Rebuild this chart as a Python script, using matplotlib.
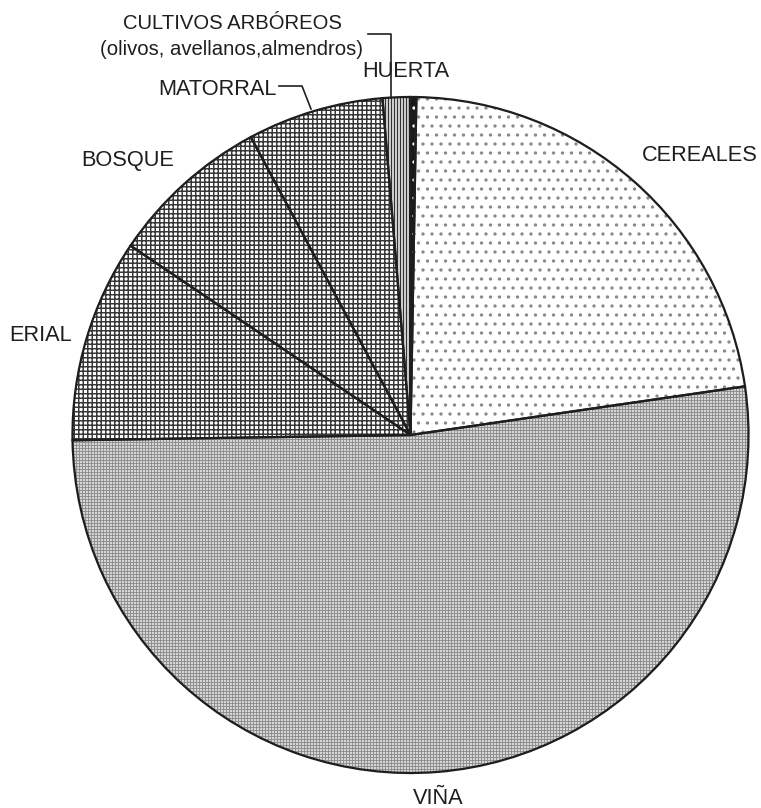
import matplotlib
matplotlib.use('Agg')
import matplotlib.pyplot as plt

categories = ['CEREALES', 'VIÑA', 'ERIAL', 'BOSQUE', 'MATORRAL',
              'CULTIVOS ARBÓREOS\n(olivos, avellanos,almendros)', 'HUERTA']
values = [22.4, 52.0, 9.7, 7.7, 6.5, 1.3, 0.3]

W, H = 761, 808
DPI = 108
plt.rcParams['font.family'] = ['Liberation Sans', 'DejaVu Sans']

fig = plt.figure(figsize=(W / DPI, H / DPI), dpi=DPI)
ax = fig.add_axes([0, 0, 1, 1])

cx, cy, R = 410.5, H - 435, 338

faces = ['white', '#d6d6d6', 'white', 'white', 'white', 'white', '#1a1a1a']
hatches = ['..', '++++++', '++++', '++++', '++++', '||||||', '..']
hcolors = ['#8a8a8a', '#8c8c8c', '#383838', '#383838', '#383838', '#333333', 'white']
hlws = [1.0, 0.6, 1.0, 1.0, 1.0, 1.0, 1.0]

wedges, _ = ax.pie(values, startangle=89, counterclock=False, center=(cx, cy),
                   radius=R, colors=faces, hatch=hatches,
                   wedgeprops=dict(linewidth=0))
for w, hc, lw in zip(wedges, hcolors, hlws):
    w.set_edgecolor(hc)
    if hasattr(w, 'set_hatchcolor'):
        w.set_hatchcolor(hc)
    if hasattr(w, 'set_hatch_linewidth'):
        w.set_hatch_linewidth(lw)
    else:
        w._hatch_linewidth = lw
    w.set_linewidth(0)

ax.pie(values, startangle=89, counterclock=False, center=(cx, cy), radius=R,
       wedgeprops=dict(fill=False, edgecolor='#1e1e1e', linewidth=1.5))

ax.set_xlim(0, W)
ax.set_ylim(0, H)
ax.set_aspect('auto')
ax.axis('off')

fs = 14.5
tcol = '#1e1e1e'
def label(x, y, s, size=fs):
    ax.text(x, H - y, s, ha='center', va='baseline', fontsize=size, color=tcol)

label(700, 161, categories[0])
label(438, 804, categories[1])
label(41, 341, categories[2])
label(128, 166, categories[3])
label(217, 95, categories[4])
l1, l2 = categories[5].split('\n')
label(232, 29, l1, 13.5)
label(232, 55, l2, 13.5)
label(406, 77, categories[6])

# leader lines
ax.plot([368, 391, 391], [H - 34, H - 34, H - 98], color=tcol, lw=1.1)
ax.plot([279, 302, 311], [H - 86, H - 86, H - 109], color=tcol, lw=1.1)

fig.savefig('out.png', dpi=DPI, facecolor='white')
